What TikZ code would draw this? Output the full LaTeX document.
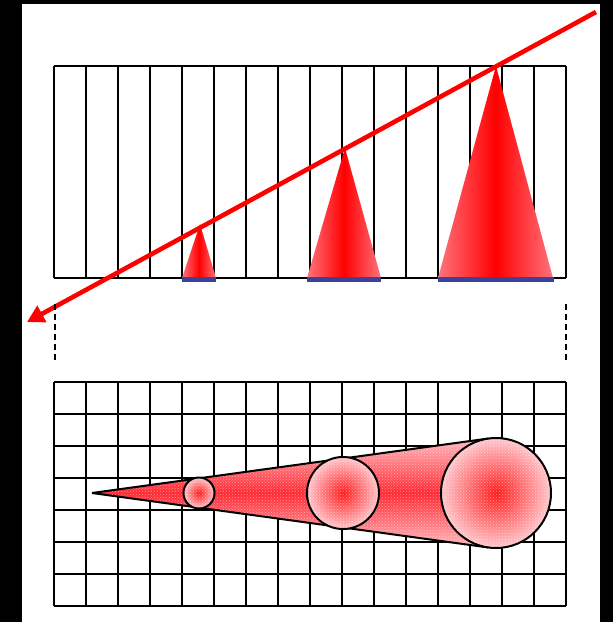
\documentclass[tikz,border=0pt]{standalone}
\usetikzlibrary{arrows.meta,patterns}
\definecolor{conepink}{RGB}{255,115,125}
\definecolor{barblue}{RGB}{62,66,150}
\definecolor{softpink}{RGB}{255,200,205}
\definecolor{beampink}{RGB}{255,185,190}
\definecolor{beamred}{RGB}{255,40,50}
\begin{document}
\begin{tikzpicture}[x=1pt,y=-1pt,
  gridline/.style={line width=2.2pt,black},
  cone/.style={left color=conepink,right color=conepink,middle color=red},
  bar/.style={fill=barblue},
  guide/.style={line width=2.6pt,black,dash pattern=on 6pt off 4pt},
  ray/.style={line width=4.6pt,red,-{Triangle[length=17pt,width=18pt]}},
  spot/.style={circle,draw,line width=2pt,inner sep=0pt,inner color=red!90!white,outer color=softpink},
  dither/.style={pattern=crosshatch dots,pattern color=white,opacity=0.45},
  edge/.style={line width=2pt,black}]
\fill[black] (0,0) rectangle (613,622);
\fill[white] (22,4) rectangle (600,622);
\useasboundingbox (0,0) rectangle (613,622);

% top grid
\foreach \i in {0,...,16}
  \draw[gridline] ({54+32*\i},66) -- ({54+32*\i},278);
\draw[gridline] (54,66) -- (566,66);
\draw[gridline] (54,278) -- (566,278);

% cones
\shade[cone] (182,278) -- (200,224) -- (216,278) -- cycle;
\shade[cone] (307,278) -- (345,148) -- (381,278) -- cycle;
\shade[cone] (438,278) -- (496,66) -- (553,278) -- cycle;
\fill[bar] (182,277) rectangle (216,282);
\fill[bar] (307,277) rectangle (381,282);
\fill[bar] (438,277) rectangle (554,282);

% red ray
\coordinate (rs) at (596,12);
\coordinate (rt) at (27,322);
\draw[ray] (rs) -- (rt);

% dashed guides
\coordinate (gl1) at (55,304); \coordinate (gl2) at (55,363);
\coordinate (gr1) at (566,304); \coordinate (gr2) at (566,363);
\draw[guide] (gl1) -- (gl2);
\draw[guide] (gr1) -- (gr2);

% bottom grid
\foreach \i in {0,...,16}
  \draw[gridline] ({54+32*\i},382) -- ({54+32*\i},606);
\foreach \j in {0,...,7}
  \draw[gridline] (54,{382+32*\j}) -- (566,{382+32*\j});

% beam
\coordinate (apex) at (92,493);
\coordinate (tu) at (488.5,438.5);
\coordinate (tl) at (488.5,547.5);
\shade[top color=beampink,bottom color=beampink,middle color=beamred] (apex) -- (tu) -- (496,493) -- (tl) -- cycle;
\fill[dither] (apex) -- (tu) -- (496,493) -- (tl) -- cycle;
\draw[edge] (apex) -- (tu);
\draw[edge] (apex) -- (tl);
\node[spot,minimum size=31pt] (s1) at (199,493) {};
\node[spot,minimum size=72pt] (s2) at (343,493) {};
\node[spot,minimum size=110pt] (s3) at (496,493) {};
\fill[dither] (s1.center) circle[radius=14.5pt];
\fill[dither] (s2.center) circle[radius=35pt];
\fill[dither] (s3.center) circle[radius=54pt];
\end{tikzpicture}
\end{document}
